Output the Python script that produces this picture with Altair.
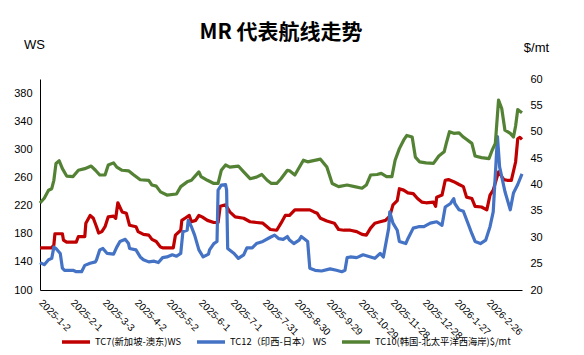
import altair as alt
import pandas as pd

START = "2025-01-02"

# TC7 (WS), day offsets from 2025-01-02
red_day = [0,11,13,14,21,22,25,34,36,42,43,47,50,53,55,58,61,64,69,71,73,77,81,84,90,92,97,102,105,109,
           113,115,125,127,132,133,136,140,142,146,149,152,157,163,167,169,174,178,183,191,197,203,209,216,222,226,230,234,239,245,
           253,257,260,263,269,276,280,285,291,297,302,306,310,314,319,324,328,331,335,337,341,345,350,354,358,362,369,371,372,377,
           380,383,388,393,397,400,405,408,414,419,422,425,430,435,438,442,446,448,450,452]
red_ws = [160,160,164,180,180,171,168,168,176,176,195,206,202,190,181,183,190,204,205,202,224,211,209,192,190,183,179,178,172,169,
          161,160,160,178,185,199,202,206,197,199,206,204,199,196,196,219,221,211,204,202,197,196,195,186,185,195,206,206,214,214,
          214,211,209,202,198,195,186,185,185,183,179,178,188,195,197,199,205,221,227,244,242,238,237,230,225,224,225,219,232,235,
          256,257,254,250,247,232,230,219,218,214,235,242,268,257,256,256,282,315,317,314]

# TC12 (WS)
blue_day = [0,4,8,11,13,15,19,21,23,31,34,39,42,47,52,53,56,59,63,69,72,75,80,83,84,90,94,97,102,107,
            111,115,119,124,128,132,134,138,139,142,145,149,153,158,159,163,166,167,170,174,175,176,182,186,191,194,199,203,209,216,
            220,224,228,232,234,238,243,245,251,253,258,264,272,278,283,286,288,291,297,303,310,314,319,322,327,328,331,335,337,343,
            345,350,355,360,366,372,377,380,385,388,389,393,397,402,405,408,413,418,422,425,429,431,436,441,444,448,452]
blue_ws = [139,136,143,145,161,159,152,131,128,128,126,126,135,138,140,143,157,159,152,151,161,169,172,166,159,157,147,143,140,141,
           139,146,147,150,148,152,183,185,199,190,178,157,147,151,157,166,169,242,249,250,242,159,152,145,150,160,160,166,169,175,
           178,173,172,176,171,166,171,176,169,131,128,127,130,128,126,128,146,147,146,150,147,145,152,147,188,211,195,185,169,166,
           173,188,190,190,195,197,192,218,223,230,223,214,212,192,180,169,166,171,190,211,318,275,240,214,238,250,265]

# TC10 ($/mt)
green_day = [0,4,8,11,13,15,18,21,25,31,36,42,48,52,56,61,64,69,72,77,83,88,94,102,105,109,113,119,128,132,
             138,142,149,151,157,163,167,170,174,178,186,191,197,203,208,213,217,222,226,232,234,239,247,251,263,269,274,280,288,295,
             302,306,310,316,320,325,330,333,337,341,344,349,352,356,362,369,374,379,381,384,388,393,397,405,408,414,421,424,427,430,
             433,436,441,444,446,448,450,452]
green_mt = [36.5,37.4,38.9,39.2,40.8,44.0,44.5,43.0,41.6,41.5,42.7,43.0,43.5,42.7,41.8,41.8,43.7,44.1,43.3,42.7,42.6,41.8,40.9,40.8,39.9,39.7,38.6,38.0,38.2,39.6,
            40.5,40.8,42.4,41.5,40.8,40.2,40.2,42.7,43.7,43.3,43.5,42.4,41.1,41.4,41.9,40.8,40.2,40.2,41.1,42.7,42.6,41.8,44.6,44.3,44.8,43.3,40.2,39.6,39.9,39.6,
            39.3,39.9,41.8,41.9,42.1,41.5,41.5,44.6,46.8,48.4,49.3,49.0,45.2,44.3,44.1,44.0,45.4,46.2,47.8,50.0,49.7,49.8,49.0,47.8,45.4,45.1,44.9,46.5,47.8,56.0,
            54.4,50.3,49.7,49.0,51.1,54.2,53.9,53.6]

tick_dates = ["2025-01-02","2025-02-01","2025-03-03","2025-04-02","2025-05-02","2025-06-01","2025-07-01",
              "2025-07-31","2025-08-30","2025-09-29","2025-10-29","2025-11-28","2025-12-28","2026-01-27","2026-02-26"]
x_domain = ["2025-01-02", "2026-03-30"]
left_ticks = [100,140,180,220,260,300,340,380]
right_ticks = [20,25,30,35,40,45,50,55,60]

names = ["TC7(新加坡-澳东)WS", "TC12（印西-日本） WS", "TC10(韩国-北太平洋西海岸)$/mt"]
colors = ["#C00000", "#4472C4", "#548235"]


def to_dates(days):
    base = pd.Timestamp(START)
    return [(base + pd.Timedelta(days=d)).strftime("%Y-%m-%d") for d in days]


def dt(s):
    t = pd.Timestamp(s)
    return alt.DateTime(year=t.year, month=t.month, date=t.day, utc=True)


df_left = pd.concat([
    pd.DataFrame({"date": to_dates(red_day), "value": red_ws, "series": names[0]}),
    pd.DataFrame({"date": to_dates(blue_day), "value": blue_ws, "series": names[1]}),
], ignore_index=True)
df_right = pd.DataFrame({"date": to_dates(green_day), "value": green_mt, "series": names[2]})

NUM_FONT = "Liberation Sans"
CJK_FONT = "Noto Sans CJK SC"

x_enc = alt.X(
    "date:T",
    title=None,
    scale=alt.Scale(type="utc", domain=[dt(x_domain[0]), dt(x_domain[1])]),
    axis=alt.Axis(values=[dt(s) for s in tick_dates],
                  labelExpr="utcFormat(datum.value, '%Y-%-m-%-d')",
                  labelAngle=45, labelAlign="left", labelBaseline="middle", labelPadding=11,
                  labelFont=NUM_FONT, labelFontSize=10, labelColor="#000", labelOverlap=False,
                  domainColor="#000", domainWidth=1, ticks=False, grid=False),
)

color_scale = alt.Scale(domain=names, range=colors)
legend = alt.Legend(orient="none", legendX=20, legendY=247, direction="horizontal", title=None,
                    symbolType="stroke", symbolSize=784, symbolStrokeWidth=3.5,
                    labelFont=CJK_FONT, labelFontSize=9.3, labelColor="#000",
                    columnPadding=8, labelOffset=3, padding=0, labelLimit=200)

left = alt.Chart(df_left).mark_line(strokeWidth=3.2, strokeJoin="round").encode(
    x=x_enc,
    y=alt.Y("value:Q", scale=alt.Scale(domain=[100, 400], nice=False, zero=False),
            axis=alt.Axis(orient="left", values=left_ticks, title="WS", titleAngle=0,
                          titleX=-6, titleY=-35, titleAlign="center", titleBaseline="middle",
                          titleFont=NUM_FONT, titleFontSize=13, titleFontWeight="normal", titleColor="#000",
                          labelFont=NUM_FONT, labelFontSize=11, labelColor="#000", labelPadding=8,
                          domainColor="#000", domainWidth=1, ticks=False, grid=False)),
    color=alt.Color("series:N", scale=color_scale, legend=legend),
)

right = alt.Chart(df_right).mark_line(strokeWidth=3.2, strokeJoin="round").encode(
    x=x_enc,
    y=alt.Y("value:Q", scale=alt.Scale(domain=[20, 60], nice=False, zero=False),
            axis=alt.Axis(orient="right", values=right_ticks, title="$/mt", titleAngle=0,
                          titleX=14, titleY=-32, titleAlign="center", titleBaseline="middle",
                          titleFont=NUM_FONT, titleFontSize=13, titleFontWeight="normal", titleColor="#000",
                          labelFont=NUM_FONT, labelFontSize=11, labelColor="#000", labelPadding=8,
                          domain=False, ticks=False, grid=False)),
    color=alt.Color("series:N", scale=color_scale, legend=legend),
)

chart = alt.layer(left, right).resolve_scale(y="independent").properties(
    width=482, height=211,
    title=alt.TitleParams("MR 代表航线走势", font=CJK_FONT, fontSize=21, fontWeight="bold",
                          color="#000", anchor="middle", offset=-5),
    padding={"left": 40, "top": 79, "right": 62, "bottom": 65},
    autosize=alt.AutoSizeParams(type="none"),
    background="white",
).configure_view(stroke=None)

chart.save("out.html", embed_options={"renderer": "svg", "actions": False})
